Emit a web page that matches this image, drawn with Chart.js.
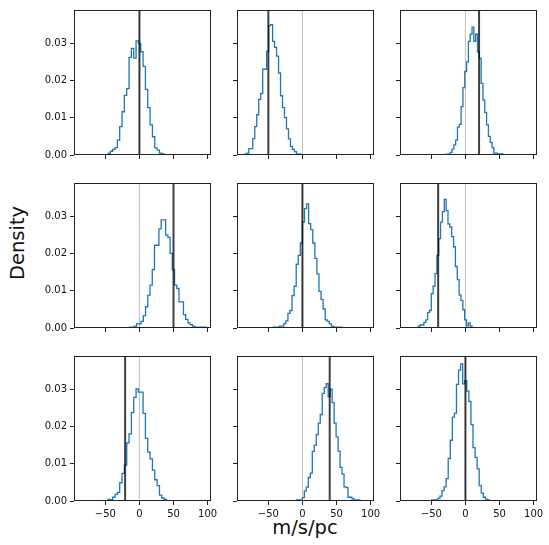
<!DOCTYPE html>
<html>
<head>
<meta charset="utf-8">
<script src="https://cdn.jsdelivr.net/npm/chart.js@4.4.0/dist/chart.umd.min.js"></script>
<style>
  body { margin: 0; background: #fff; width: 549px; height: 545px; position: relative; overflow: hidden; font-family: 'DejaVu Sans', sans-serif; color: #111; }
  canvas { position: absolute; }
  #ylabel { position: absolute; left: 17px; top: 243px; font-size: 19.5px; white-space: nowrap; transform: translate(-50%, -50%) rotate(-90deg); }
  #xlabel { position: absolute; left: 305px; top: 527px; font-size: 19.5px; white-space: nowrap; transform: translate(-50%, -50%); }
</style>
</head>
<body>
<div id="ylabel">Density</div>
<div id="xlabel">m/s/pc</div>
<script>
// shared axes
const xTicks = [-50, 0, 50, 100];
const yTicks = [0, 0.01, 0.02, 0.03];
const xMin = -96, xMax = 105;
const yMin = 0, yMax = 0.0389;
const zeroLine = 0;

// per panel (row by row): first bin edge, bin width, marked value
const binStart = [-46.1, -84.5, -27.7, -13.9, -42.6, -69.1, -46.1, -8.8, -49.5];
const binWidth = [3.43, 2.91, 2.67, 3.27, 3.04, 2.72, 3.43, 2.91, 3.03];
const markValue = [0, -50, 20, 50, 0, -40, -21, 40, 0];

// densities per bin
const density1 = [0.0004, 0.001, 0.0015, 0.002, 0.004, 0.0076, 0.0116, 0.016, 0.0178, 0.0262, 0.0286, 0.026,
  0.0306, 0.0299, 0.0277, 0.0238, 0.0176, 0.0127, 0.0081, 0.0049, 0.0019, 0.0013, 0.0005, 0.0003];
const density2 = [0.0002, 0.0005, 0.0017, 0.0017, 0.0044, 0.0076, 0.0108, 0.0149, 0.0165, 0.023, 0.023, 0.0278,
  0.0347, 0.035, 0.0305, 0.0289, 0.0265, 0.022, 0.0159, 0.0127, 0.01, 0.007, 0.0043, 0.0023, 0.0015, 0.0009,
  0.0003, 0.0002];
const density3 = [0.0002, 0.0002, 0.0007, 0.0016, 0.0027, 0.004, 0.0075, 0.0082, 0.013, 0.0181, 0.0224, 0.025,
  0.0305, 0.0324, 0.0343, 0.0305, 0.0324, 0.0277, 0.026, 0.0192, 0.0147, 0.0114, 0.0081, 0.005, 0.0034, 0.002,
  0.0005, 0.0005, 0.0003, 0.0003, 0.0003];
const density4 = [0.0002, 0.0002, 0.0005, 0.0011, 0.0011, 0.0018, 0.0033, 0.0057, 0.0088, 0.0115, 0.0157, 0.0222,
  0.0222, 0.0266, 0.029, 0.029, 0.0249, 0.0243, 0.02, 0.0157, 0.0115, 0.0106, 0.007, 0.007, 0.0036, 0.0023,
  0.0014, 0.0009, 0.0005, 0.0002, 0.0002, 0.0002, 0.0002, 0.0002];
const density5 = [0.0002, 0.0002, 0.0002, 0.0005, 0.0005, 0.0012, 0.0019, 0.0039, 0.0047, 0.0087, 0.0112, 0.0171,
  0.0195, 0.0228, 0.0284, 0.032, 0.0333, 0.028, 0.0264, 0.0228, 0.0187, 0.0145, 0.0098, 0.0077, 0.0051, 0.0022,
  0.0018, 0.0011, 0.0005, 0.0002, 0.0002, 0.0002, 0.0002];
const density6 = [0.0005, 0.0008, 0.0008, 0.0015, 0.0022, 0.0041, 0.0047, 0.0092, 0.0112, 0.0146, 0.0195, 0.024,
  0.0284, 0.0312, 0.0345, 0.0315, 0.0279, 0.0271, 0.0245, 0.0218, 0.0165, 0.013, 0.0088, 0.0074, 0.0049, 0.0022,
  0.0006, 0.0014, 0.0005];
const density7 = [0.0004, 0.0003, 0.001, 0.0018, 0.0023, 0.0049, 0.0074, 0.0096, 0.0156, 0.018, 0.0237, 0.0278,
  0.0301, 0.0292, 0.0292, 0.0235, 0.0168, 0.0131, 0.0113, 0.0083, 0.0057, 0.0041, 0.0016, 0.0008, 0.0004];
const density8 = [0.0003, 0.0003, 0.0003, 0.0009, 0.0027, 0.0037, 0.0063, 0.0075, 0.0133, 0.015, 0.0178, 0.0209,
  0.0232, 0.0289, 0.0304, 0.0315, 0.028, 0.03, 0.0264, 0.0209, 0.0172, 0.0134, 0.009, 0.0072, 0.0038, 0.0036,
  0.001, 0.001, 0.0006, 0.0003, 0.0003, 0.0003];
const density9 = [0.0003, 0.0003, 0.0003, 0.0007, 0.0013, 0.0028, 0.0038, 0.006, 0.0114, 0.0163, 0.0225, 0.0236,
  0.0313, 0.0351, 0.0368, 0.0314, 0.0323, 0.0295, 0.0267, 0.0205, 0.0143, 0.0117, 0.0086, 0.0041, 0.0021, 0.001,
  0.0005, 0.0003];
const densities = [density1, density2, density3, density4, density5, density6, density7, density8, density9];

// layout of the 3x3 grid (page pixels of each axes box)
const boxLeft = [74, 237, 400];
const boxTop = [10, 183, 356];
const boxW = 137, boxH = 145;
const padL = 60, padT = 8, padR = 14, padB = 30;

const frame = {
  id: 'frame',
  afterDraw(chart) {
    const a = chart.chartArea;
    const ctx = chart.ctx;
    ctx.save();
    ctx.strokeStyle = '#222';
    ctx.lineWidth = 1;
    ctx.strokeRect(Math.round(a.left) + 0.5, Math.round(a.top) + 0.5,
      Math.round(a.right - a.left) - 1, Math.round(a.bottom - a.top) - 1);
    ctx.restore();
  }
};

function stepPoints(start, width, dens) {
  const pts = [{ x: start, y: 0 }];
  dens.forEach((d, i) => pts.push({ x: start + i * width, y: d }));
  pts.push({ x: start + dens.length * width, y: 0 });
  return pts;
}

function vline(v, color, w, order) {
  return {
    data: [{ x: v, y: yMin }, { x: v, y: yMax }],
    borderColor: color, borderWidth: w, pointRadius: 0, order: order
  };
}

for (let i = 0; i < 9; i++) {
  const row = Math.floor(i / 3), col = i % 3;
  const canvas = document.createElement('canvas');
  canvas.width = padL + boxW + padR;
  canvas.height = padT + boxH + padB;
  canvas.style.left = (boxLeft[col] - padL) + 'px';
  canvas.style.top = (boxTop[row] - padT) + 'px';
  document.body.appendChild(canvas);

  const showX = row === 2, showY = col === 0;

  new Chart(canvas, {
    type: 'line',
    data: {
      datasets: [
        vline(markValue[i], 'rgba(0,0,0,0.75)', 2, 0),
        {
          data: stepPoints(binStart[i], binWidth[i], densities[i]),
          stepped: true,
          borderColor: '#1f77b4', borderWidth: 1.3, pointRadius: 0, order: 1
        },
        vline(zeroLine, 'rgba(0,0,0,0.25)', 1, 2)
      ]
    },
    options: {
      responsive: false,
      animation: false,
      events: [],
      layout: { padding: { left: 0, top: padT, right: padR, bottom: 0 } },
      plugins: { legend: { display: false }, tooltip: { enabled: false } },
      scales: {
        x: {
          type: 'linear', min: xMin, max: xMax,
          afterBuildTicks: s => { s.ticks = xTicks.map(v => ({ value: v })); },
          afterFit: s => { s.height = padB; s.paddingLeft = s.paddingRight = 0; },
          border: { display: false },
          grid: { drawOnChartArea: false, drawTicks: true, tickLength: 4, tickWidth: 1, tickColor: '#222' },
          ticks: {
            autoSkip: false, maxRotation: 0, padding: 3, color: '#111',
            font: { family: 'DejaVu Sans', size: 10 },
            callback: v => showX ? (v < 0 ? '\u2212' + Math.abs(v) : String(v)) : ''
          }
        },
        y: {
          min: yMin, max: yMax,
          afterBuildTicks: s => { s.ticks = yTicks.map(v => ({ value: v })); },
          afterFit: s => { s.width = padL; s.paddingTop = s.paddingBottom = 0; },
          border: { display: false },
          grid: { drawOnChartArea: false, drawTicks: true, tickLength: 4, tickWidth: 1, tickColor: '#222' },
          ticks: {
            autoSkip: false, padding: 3, color: '#111',
            font: { family: 'DejaVu Sans', size: 10 },
            callback: v => showY ? v.toFixed(2) : ''
          }
        }
      }
    },
    plugins: [frame]
  });
}
</script>
</body>
</html>
